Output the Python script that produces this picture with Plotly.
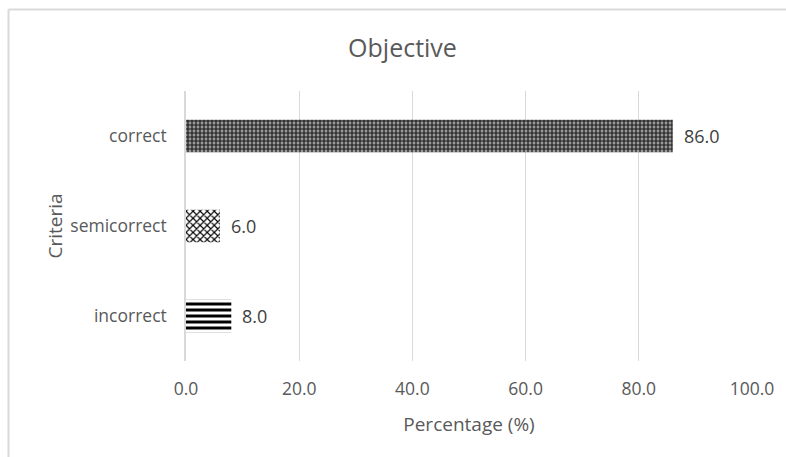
import plotly.graph_objects as go

# Answer categories and their share of responses (%)
categories = ["incorrect", "semicorrect", "correct"]
percentages = [8.0, 6.0, 86.0]
x_ticks = [0, 20, 40, 60, 80, 100]
x_tick_labels = ["0.0", "20.0", "40.0", "60.0", "80.0", "100.0"]

# Fill patterns per bar
pattern_shapes = ["-", "x", "+"]
pattern_sizes = [6, 5, 4]
pattern_solidity = [0.5, 0.4, 0.5]
pattern_fg = ["#000000", "#000000", "#1a1a1a"]
pattern_bg = ["#ffffff", "#ffffff", "#9a9a9a"]

W, H = 786, 457
L, R, T, B = 186, 34, 91, 96
pw, ph = W - L - R, H - T - B

TXT = "#595959"
FONT = "Open Sans, Noto Sans, sans-serif"

fig = go.Figure()
fig.add_trace(go.Bar(
    y=categories,
    x=percentages,
    orientation="h",
    width=0.36,
    marker=dict(
        color="#ffffff",
        line=dict(width=0),
        pattern=dict(
            shape=pattern_shapes,
            size=pattern_sizes,
            solidity=pattern_solidity,
            fgcolor=pattern_fg,
            bgcolor=pattern_bg,
            fillmode="replace",
        ),
    ),
    showlegend=False,
))

# Value labels just past each bar end
for cat, val in zip(categories, percentages):
    fig.add_annotation(x=val, y=cat, text=f"{val:.1f}", showarrow=False,
                       xanchor="left", xshift=9,
                       font=dict(size=18, color="#404040", family=FONT))

# Outer chart frame (top and left edges)
fx = (8.5 - L) / pw
fy = (H - B - 9.5) / ph
fig.add_shape(type="line", xref="paper", yref="paper",
              x0=fx, x1=(W + 5 - L) / pw, y0=fy, y1=fy,
              line=dict(color="#d9d9d9", width=2))
fig.add_shape(type="line", xref="paper", yref="paper",
              x0=fx, x1=fx, y0=fy, y1=(H - B - H - 5) / ph,
              line=dict(color="#d9d9d9", width=2))

fig.update_layout(
    width=W, height=H,
    margin=dict(l=L, r=R, t=T, b=B),
    paper_bgcolor="#ffffff",
    plot_bgcolor="#ffffff",
    font=dict(family=FONT, color=TXT),
    title=dict(text="Objective", x=402.5 / W, xanchor="center",
               y=1 - 48 / H, yanchor="middle",
               font=dict(size=25, color=TXT)),
    xaxis=dict(
        range=[0, 100],
        tickvals=x_ticks,
        ticktext=x_tick_labels,
        showgrid=True,
        gridcolor="#d9d9d9",
        gridwidth=1,
        zeroline=False,
        showline=False,
        ticks="",
        ticklabelstandoff=15,
        tickfont=dict(size=17.5, color=TXT),
        title=dict(text="Percentage (%)", font=dict(size=19, color=TXT),
                   standoff=19),
    ),
    yaxis=dict(
        range=[-0.5, 2.5],
        showgrid=False,
        zeroline=False,
        showline=True,
        linecolor="#d9d9d9",
        linewidth=1.5,
        ticks="",
        ticklabelstandoff=14,
        tickfont=dict(size=17.5, color=TXT),
        title=dict(text="Criteria", font=dict(size=19, color=TXT),
                   standoff=3),
    ),
)

fig.write_html("out.html")
